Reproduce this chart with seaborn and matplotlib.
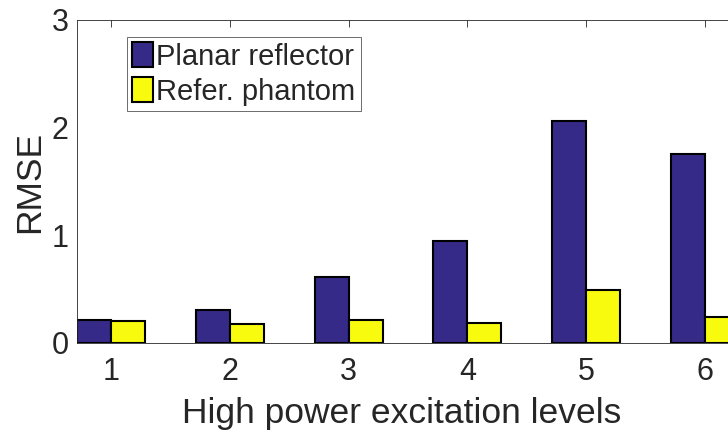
import matplotlib
matplotlib.use("Agg")
import matplotlib.pyplot as plt
import seaborn as sns
import pandas as pd

levels = ["1", "2", "3", "4", "5", "6"]
planar_reflector = [0.21, 0.31, 0.61, 0.95, 2.06, 1.76]
refer_phantom = [0.20, 0.18, 0.21, 0.19, 0.49, 0.24]
series_names = ["Planar reflector", "Refer. phantom"]
series_colors = ["#352a87", "#f9fb0e"]

df = pd.DataFrame({
    "level": levels * 2,
    "rmse": planar_reflector + refer_phantom,
    "series": [series_names[0]] * len(levels) + [series_names[1]] * len(levels),
})

sns.set_style("white")
plt.rcParams["font.family"] = ["Liberation Sans", "DejaVu Sans"]
text_c = "#262626"

fig = plt.figure(figsize=(7.28, 4.34), dpi=100)
ax = fig.add_axes([77 / 728, (434 - 343) / 434, (739 - 77) / 728, (343 - 20) / 434])

sns.barplot(data=df, x="level", y="rmse", hue="series", order=levels,
            hue_order=series_names, palette=series_colors, width=0.5714,
            edgecolor="black", linewidth=1.5, saturation=1, errorbar=None, ax=ax)

ax.set_xlim(-0.2857, 5.2857)
ax.set_ylim(0, 3)
ax.set_yticks([0, 1, 2, 3])
ax.set_xlabel("High power excitation levels", fontsize=25.5, color=text_c)
ax.xaxis.label.set_va("baseline")
ax.xaxis.set_label_coords(0.491, -80 / 323)
ax.set_ylabel("RMSE", fontsize=25.5, color=text_c, labelpad=4)
ax.tick_params(axis="both", direction="in", length=5, width=0.6, colors=text_c,
               labelsize=22, top=True, right=True)
ax.tick_params(axis="x", pad=10)
ax.tick_params(axis="y", pad=6)
for s in ax.spines.values():
    s.set_visible(True)
    s.set_color(text_c)
    s.set_linewidth(0.6)

leg = ax.legend(loc="upper left", bbox_to_anchor=(50 / 662, 1 - 17 / 323),
                fontsize=21, frameon=True, fancybox=False, framealpha=1,
                edgecolor="#555555", handlelength=0.72, handleheight=0.95,
                handletextpad=0.1, labelspacing=0.22, borderpad=0.18,
                borderaxespad=0)
leg.get_frame().set_linewidth(0.6)
leg.set_title(None)

fig.savefig("out.png", dpi=100)
